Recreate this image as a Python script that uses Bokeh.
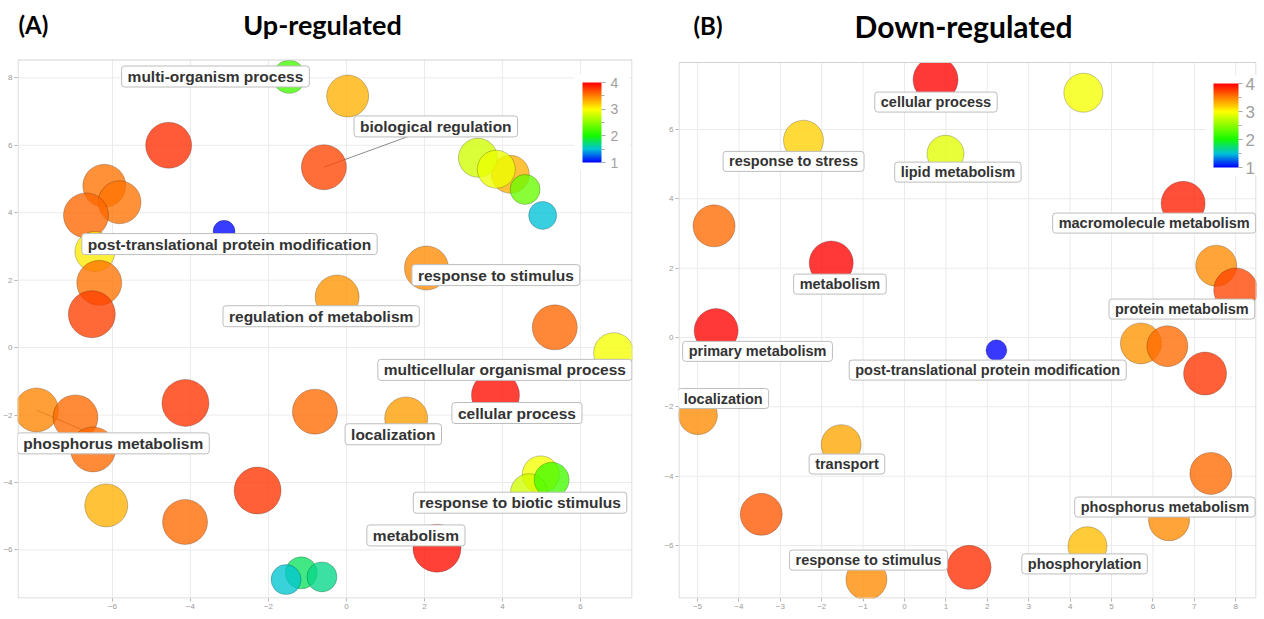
import numpy as np
from bokeh.plotting import figure
from bokeh.models import (ColumnDataSource, LinearColorMapper, ColorBar, FixedTicker,
                          Label, Range1d)
from bokeh.layouts import row
from bokeh.embed import file_html
from bokeh.resources import INLINE

# ---------------- data: panel A (Up-regulated) ----------------
a_x = [-1.47, 0.03, -4.56, -0.58, 4.20, 3.37, 3.84, 4.58, 5.03, -6.21, -5.82, -6.68, -3.14,
       -6.45, -6.34, -6.53, 2.05, -0.24, 5.34, 6.85, 3.82, 1.53, -0.81, -4.13, -7.95, -6.95,
       -6.50, -6.16, -2.28, -4.14, 4.98, 4.68, 5.26, 2.32, -1.16, -1.55, -0.63]
a_y = [8.03, 7.46, 6.00, 5.35, 5.14, 5.63, 5.29, 4.69, 3.92, 4.80, 4.31, 3.92, 3.45,
       2.85, 1.92, 0.99, 2.36, 1.50, 0.60, -0.15, -1.41, -2.10, -1.90, -1.64, -1.85, -2.07,
       -3.02, -4.68, -4.24, -5.17, -3.76, -4.29, -3.92, -5.95, -6.68, -6.88, -6.80]
a_val = [2.20, 3.30, 3.82, 3.72, 3.30, 2.80, 2.92, 2.35, 1.50, 3.55, 3.55, 3.60, 1.02,
         3.08, 3.55, 3.75, 3.45, 3.42, 3.60, 2.95, 3.95, 3.38, 3.58, 3.80, 3.48, 3.58,
         3.58, 3.30, 3.80, 3.58, 2.95, 2.80, 2.20, 3.95, 1.78, 1.52, 1.68]
a_size = [3.3, 4.2, 4.6, 4.5, 3.8, 3.9, 3.8, 3.0, 2.8, 4.3, 4.3, 4.5, 2.2,
          4.0, 4.5, 4.7, 4.4, 4.4, 4.5, 4.0, 4.8, 4.3, 4.5, 4.7, 4.4, 4.5,
          4.5, 4.3, 4.7, 4.5, 3.7, 3.7, 3.5, 4.8, 3.2, 3.0, 3.0]

a_labels = ["multi-organism process", "biological regulation",
            "post-translational protein modification", "response to stimulus",
            "regulation of metabolism", "multicellular organismal process",
            "cellular process", "localization", "phosphorus metabolism",
            "response to biotic stimulus", "metabolism"]
a_label_x = [-3.36, 2.29, -3.00, 3.83, -0.65, 4.06, 4.37, 1.20, -5.98, 4.45, 1.78]
a_label_y = [8.04, 6.56, 3.07, 2.15, 0.93, -0.66, -1.94, -2.57, -2.84, -4.60, -5.57]
# (label index, point index) pairs joined by a connector line
a_links = [(1, 3), (8, 24)]

# ---------------- data: panel B (Down-regulated) ----------------
b_x = [0.75, 4.32, -2.44, 0.99, -4.60, 6.73, -1.77, 7.53, 8.00, -4.55, 2.22, 5.71,
       6.35, 7.26, -4.99, -1.53, 7.40, -3.46, 6.39, 4.42, 1.56, -0.92]
b_y = [7.44, 7.06, 5.69, 5.30, 3.22, 3.87, 2.15, 2.07, 1.37, 0.20, -0.37, -0.17,
       -0.25, -1.04, -2.24, -3.09, -3.92, -5.10, -5.27, -6.02, -6.63, -6.98]
b_val = [4.00, 2.95, 3.18, 2.87, 3.58, 3.88, 4.00, 3.45, 3.72, 4.00, 1.00, 3.42,
         3.58, 3.80, 3.45, 3.35, 3.58, 3.65, 3.45, 3.25, 3.82, 3.45]
b_size = [4.5, 3.9, 4.0, 3.7, 4.2, 4.4, 4.4, 4.1, 4.4, 4.4, 2.1, 4.1,
          4.1, 4.3, 3.9, 4.0, 4.2, 4.2, 4.1, 3.9, 4.4, 4.1]

b_labels = ["cellular process", "response to stress", "lipid metabolism",
            "macromolecule metabolism", "metabolism", "protein metabolism",
            "primary metabolism", "post-translational protein modification",
            "localization", "transport", "phosphorus metabolism",
            "response to stimulus", "phosphorylation"]
b_label_x = [0.76, -2.68, 1.29, 6.03, -1.56, 6.70, -3.55, 2.01, -4.38, -1.39, 6.29, -0.87, 4.35]
b_label_y = [6.79, 5.08, 4.77, 3.30, 1.54, 0.82, -0.40, -0.94, -1.76, -3.65, -4.89, -6.42, -6.53]

a_xticks = [-6, -4, -2, 0, 2, 4, 6]
a_yticks = [-6, -4, -2, 0, 2, 4, 6, 8]
b_xticks = [-5, -4, -3, -2, -1, 0, 1, 2, 3, 4, 5, 6, 7, 8]
b_yticks = [-6, -4, -2, 0, 2, 4, 6]
cbar_ticks = [1, 2, 3, 4]
cbar_minor = [1.5, 2.5, 3.5]

# ---------------- colour scale (blue-cyan-green-yellow-red) ----------------
stops = [(1.0, (0, 0, 255)), (1.5, (0, 195, 215)), (2.0, (20, 250, 0)),
         (3.0, (255, 255, 0)), (4.0, (255, 0, 0))]


def make_palette(n=256):
    vs = np.linspace(1.0, 4.0, n)
    sv = [s[0] for s in stops]
    out = []
    for v in vs:
        rgb = [int(round(np.interp(v, sv, [s[1][k] for s in stops]))) for k in range(3)]
        out.append("#%02x%02x%02x" % tuple(rgb))
    return out


palette = make_palette()

GRID = "#ebebeb"
FRAME = "#d2d2d2"
TICK = "#9a9a9a"


def panel(xs, ys, vals, sizes, labels, lx, ly, links, px, xticks, yticks, lab_font,
          cb, title_tag, title, title_font):
    W, H = px["W"], px["H"]
    fl, fr, pt, fb = px["left"], px["right"], px["plot_top"], px["bottom"]
    x0, kx, y0, ky = px["x0"], px["kx"], px["y0"], px["ky"]
    xs_ = (fl - x0) / kx
    xe_ = (fr - x0) / kx
    ys_ = (y0 - fb) / ky
    ye_ = (y0 - 0) / ky          # frame runs to the top of the canvas (title area)
    ptop = (y0 - pt) / ky         # top of the plotting panel

    p = figure(width=W, height=H, x_range=Range1d(xs_, xe_), y_range=Range1d(ys_, ye_),
               output_backend="svg", toolbar_location=None,
               min_border_left=fl, min_border_right=W - fr,
               min_border_top=0, min_border_bottom=H - fb)
    p.outline_line_color = None
    p.background_fill_color = "white"
    p.border_fill_color = "white"
    p.xgrid.visible = False
    p.ygrid.visible = False
    p.xaxis.ticker = FixedTicker(ticks=xticks)
    p.yaxis.ticker = FixedTicker(ticks=yticks)
    for ax in (p.xaxis[0], p.yaxis[0]):
        ax.axis_line_color = None
        ax.major_tick_line_color = "#b5b5b5"
        ax.major_tick_out = 3
        ax.major_tick_in = 0
        ax.minor_tick_line_color = None
        ax.major_label_text_font_size = "8px"
        ax.major_label_text_color = TICK
        ax.major_label_text_font = "Liberation Sans"
        ax.major_label_standoff = 2

    # grid limited to the plotting panel
    p.segment(x0=xticks, y0=[ys_] * len(xticks), x1=xticks, y1=[ptop] * len(xticks),
              line_color=GRID, line_width=1)
    p.segment(x0=[xs_] * len(yticks), y0=yticks, x1=[xe_] * len(yticks), y1=yticks,
              line_color=GRID, line_width=1)

    for li, pi in links:
        p.segment(x0=[xs[pi]], y0=[ys[pi]], x1=[lx[li]], y1=[ly[li]],
                  line_color="#8c8c8c", line_width=1)

    mapper = LinearColorMapper(palette=palette, low=1.0, high=4.0)
    src = ColumnDataSource(dict(x=xs, y=ys, v=vals, s=[q * 10 for q in sizes]))
    p.scatter("x", "y", size="s", source=src,
              fill_color={"field": "v", "transform": mapper}, fill_alpha=0.78,
              line_color="black", line_alpha=0.22, line_width=1)

    # white cover above the plotting panel (clips the marks at the panel top)
    p.quad(left=[xs_], right=[xe_], bottom=[ptop], top=[ye_],
           fill_color="white", line_color=None)
    # panel border (inset half a pixel so it is not clipped)
    hx, hy = 0.5 / kx, 0.5 / ky
    p.quad(left=[xs_ + hx], right=[xe_ - hx], bottom=[ys_ + hy], top=[ptop],
           fill_color=None, line_color=FRAME, line_width=1)

    for t, x, y in zip(labels, lx, ly):
        p.add_layout(Label(x=x, y=y, text=t, text_align="center", text_baseline="middle",
                           text_font="Liberation Sans", text_font_style="bold",
                           text_font_size=lab_font, text_color="#333333",
                           background_fill_color="white", background_fill_alpha=1.0,
                           border_line_color="#bdbdbd", border_line_width=1,
                           border_radius=3,
                           padding=dict(left=6, right=6, top=2, bottom=2)))

    bar = ColorBar(color_mapper=mapper, orientation="vertical",
                   location=(cb["box_left"] - fl, fb - cb["box_bottom"]),
                   width=cb["w"], height=cb["h"], margin=0, padding=8,
                   ticker=FixedTicker(ticks=cbar_ticks, minor_ticks=cbar_minor),
                   major_label_text_font_size=cb["font"], major_label_text_color="#a0a0a0",
                   major_label_text_font="Liberation Sans",
                   major_tick_line_color="#a8a8a8", major_tick_in=0, major_tick_out=4,
                   minor_tick_line_color="#a8a8a8", minor_tick_in=0, minor_tick_out=3,
                   bar_line_color=None, border_line_color=None,
                   background_fill_color="white", background_fill_alpha=1.0,
                   label_standoff=cb["standoff"])
    p.add_layout(bar)

    p.add_layout(Label(x=px["tag_x"] - fl, y=fb - px["title_base"], x_units="screen",
                       y_units="screen", text=title_tag, text_font="Lato",
                       text_font_style="bold", text_font_size="24px", text_color="black",
                       text_align="left", text_baseline="alphabetic"))
    p.add_layout(Label(x=px["title_cx"] - fl, y=fb - px["title_base"], x_units="screen",
                       y_units="screen", text=title, text_font="Lato",
                       text_font_style="bold", text_font_size=title_font,
                       text_color="black", text_align="center", text_baseline="alphabetic"))
    return p


# panel A: canvas x 0..661 ; plotting panel x 17..632, y 60..603
pxA = dict(W=661, H=618, left=17, right=632, plot_top=60, bottom=603,
           x0=346, kx=39.0, y0=350, ky=34.0, tag_x=18, title_cx=322, title_base=29)
cbA = dict(box_left=574, box_bottom=175, w=19, h=80, font="14px", standoff=5)
pA = panel(a_x, a_y, a_val, a_size, a_labels, a_label_x, a_label_y, a_links, pxA,
           a_xticks, a_yticks, "15.5px", cbA, "(A)", "Up-regulated", "27px")

# panel B: canvas x 661..1263 ; plotting panel x 678..1256, y 62..598 (absolute)
off = 661
pxB = dict(W=602, H=618, left=678 - off, right=1256 - off, plot_top=62, bottom=598,
           x0=904 - off, kx=41.4, y0=337, ky=34.67, tag_x=693 - off, title_cx=963 - off,
           title_base=25)
cbB = dict(box_left=1205 - off, box_bottom=175, w=25, h=84, font="17px", standoff=3)
pB = panel(b_x, b_y, b_val, b_size, b_labels, b_label_x, b_label_y, [], pxB,
           b_xticks, b_yticks, "14.5px", cbB, "(B)", "Down-regulated", "30px")

layout = row(pA, pB)
open("out.html", "w").write(file_html(layout, INLINE))
